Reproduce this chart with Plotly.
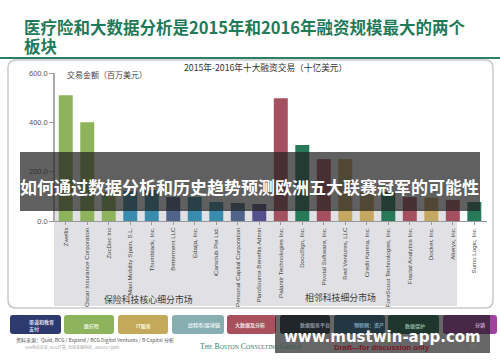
import plotly.graph_objects as go

W, H = 500, 362
companies = ["Zwellis", "Oscar Insurance Corporation", "ZocDoc Inc", "Maxi Mobility Spain, S.L.",
             "Thumbtack, Inc.", "Betterment LLC", "Edaija, Inc.", "iCarsclub Pte Ltd.",
             "Personal Capital Corporation", "PlanSource Benefits Admin", "Palantir Technologies Inc.",
             "DocuSign, Inc.", "Pivotal Software, Inc.", "Red Ventures, LLC", "Credit Karma, Inc.",
             "ForeScout Technologies, Inc.", "Fractal Analytics Inc.", "Docker, Inc.", "Alteryx, Inc.",
             "Sumo Logic, Inc."]
values = [510, 400, 118, 122, 125, 97, 97, 77, 73, 69, 498, 308, 251, 251, 118, 118, 97, 95, 85, 77]
G, B, N, P, R, T, O = "#8db35c", "#3a8cae", "#4f6488", "#54508e", "#a5505f", "#27795a", "#c4a862"
bar_colors = [G, G, G, B, B, N, B, B, N, P, R, T, R, O, O, T, R, O, R, T]
y_ticks = [0, 200, 400, 600]
y_labels = ["0.0", "200.0", "400.0", "600.0"]

FONT = "Liberation Sans, Noto Sans CJK SC, sans-serif"
CJK = "Noto Sans CJK SC, sans-serif"


def px(x):
    return x / W


def py(y):
    return 1 - y / H


def rect(x0, y0, x1, y1, fill, layer="below", line=None, lw=0):
    return dict(type="rect", xref="paper", yref="paper", x0=px(x0), x1=px(x1), y0=py(y1), y1=py(y0),
                fillcolor=fill, layer=layer, line=dict(color=line or fill, width=lw))


def rounded(x0, y0, x1, y1, r, fill, layer="below", line=None, lw=0):
    X = lambda v: f"{px(v):.5f}"
    Y = lambda v: f"{py(v):.5f}"
    path = (f"M {X(x0 + r)} {Y(y0)} L {X(x1 - r)} {Y(y0)} Q {X(x1)} {Y(y0)} {X(x1)} {Y(y0 + r)} "
            f"L {X(x1)} {Y(y1 - r)} Q {X(x1)} {Y(y1)} {X(x1 - r)} {Y(y1)} "
            f"L {X(x0 + r)} {Y(y1)} Q {X(x0)} {Y(y1)} {X(x0)} {Y(y1 - r)} "
            f"L {X(x0)} {Y(y0 + r)} Q {X(x0)} {Y(y0)} {X(x0 + r)} {Y(y0)} Z")
    return dict(type="path", xref="paper", yref="paper", path=path, fillcolor=fill, layer=layer,
                line=dict(color=line or fill, width=lw))


def text(x, y, s, size, color, anchor="left", bold=False, family=CJK, angle=0):
    return dict(xref="paper", yref="paper", x=px(x), y=py(y), text=f"<b>{s}</b>" if bold else s,
                showarrow=False, xanchor=anchor, yanchor="middle", align=anchor, textangle=angle,
                font=dict(size=size, color=color, family=family))


shapes = [
    rect(0, 57, 500, 59, "#2e7d65"),
    rounded(8, 60, 493, 308, 8, "#ffffff", line="#c9c9c9", lw=1.5),
    rect(54, 209, 457, 306, "#e1e1e5"),
]

chips = [(10, 61, "#2e3a6e"), (64, 114, "#8db35c"), (118, 168, "#c4a95a"), (172, 224, "#87aeb0"),
         (227, 276, "#a8505c"), (280, 330, "#2a3a4a"), (334, 385, "#2f6f90"), (388, 439, "#1f6b4f"),
         (443, 497, "#a040a0")]
for a, b, c in chips:
    shapes.append(rounded(a, 315, b, 334, 3, c))

shapes += [
    rect(20, 152, 480, 211, "rgba(35,35,35,0.72)", layer="above"),
    rect(275, 315, 490, 353, "rgba(30,30,30,0.68)", layer="above"),
]

small = '<span style="font-size:5.8px">'
dim = '<span style="color:#2c5c4c;font-size:5.8px">'
dimcap = '<span style="color:#2c5c4c;font-size:7.8px">'
boston = f'T{small}HE</span> B{small}OSTON</span> C{small}ONSULTI</span>{dim}NG </span>{dimcap}G</span>{dim}ROUP</span>'

annotations = [
    text(22, 27.5, "医疗险和大数据分析是2015年和2016年融资规模最大的两个", 16.5, "#1f7a5a", bold=True),
    text(22, 46.5, "板块", 16.5, "#1f7a5a", bold=True),
    text(265, 67, "2015年-2016年十大融资交易（十亿美元）", 8.7, "#333333", anchor="center"),
    text(65, 75, "交易金额（百万美元）", 8, "#444444"),
    text(148.5, 299.5, "保险科技核心细分市场", 8.9, "#3a3a3a", anchor="center"),
    text(340.5, 297, "相邻科技细分市场", 8.9, "#3a3a3a", anchor="center"),
    text(249.5, 187, "如何通过数据分析和历史趋势预测欧洲五大联赛冠军的可能性", 17, "#ffffff", anchor="center", bold=True),
    text(27, 325, "渠道和教育<br>支付", 5, "#d8dcec", bold=True),
    text(82, 326, "医疗险", 5, "#f0f5e4", bold=True),
    text(134, 326, "IT服务", 5, "#faf5df", bold=True),
    text(186, 325, "比特币/区块链", 5, "#eef6f6", bold=True),
    text(233, 325, "大数据及分析", 5, "#f4e0e2", bold=True),
    text(298, 325, "数据服务平台", 5, "#8a93a0", bold=True),
    text(352, 325, "物联网：资产", 5, "#7aa2b8", bold=True),
    text(403, 326, "数据保护", 5, "#8ab09e", bold=True),
    text(473, 325, "分销", 5, "#c9a0c9", bold=True),
    text(14, 340, "资料来源：Quid, BCG / Expand / BCG Digital Ventures / B Capital 分析", 5, "#555555"),
    text(23, 347, "509电话会议_BCG计算_全球金融科技_Jan2017.pptx", 4, "#a5a5a5"),
    text(198, 346, boston, 7.8, "#2e7d65", family="Liberation Serif, serif"),
    text(381.5, 347, "Draft—for discussion only", 7.6, "#7a1525", anchor="center", bold=True, family=FONT),
    text(473, 346, "39", 6, "#777777", anchor="center", family=FONT),
    text(382.5, 336.5, "www.mustwin-app.com", 15, "#ffffff", anchor="center", bold=True, family="DejaVu Sans, sans-serif"),
]

fig = go.Figure(go.Bar(x=companies, y=values, marker=dict(color=bar_colors, line=dict(width=0)), width=0.65))
fig.update_layout(
    width=W, height=H, autosize=False, margin=dict(l=0, r=0, t=0, b=0),
    paper_bgcolor="#ffffff", plot_bgcolor="rgba(0,0,0,0)", showlegend=False,
    shapes=shapes, annotations=annotations, font=dict(family=FONT),
    xaxis=dict(domain=[px(55), px(487)], range=[-0.5, 19.59], type="category", tickangle=-90,
               ticks="outside", ticklen=3, tickcolor="#999999", showline=True, linecolor="#999999",
               linewidth=1, showgrid=False, tickfont=dict(size=6.2, color="#444444", family=FONT),
               anchor="y", automargin=False),
    yaxis=dict(domain=[py(221), py(73)], range=[0, 600], tickvals=y_ticks, ticktext=y_labels,
               ticks="outside", ticklen=4, tickcolor="#999999", showline=True, linecolor="#aaaaaa",
               linewidth=1.5, showgrid=False, zeroline=False,
               tickfont=dict(size=7.5, color="#555555", family=FONT), automargin=False),
)
fig.write_html("out.html", config=dict(displayModeBar=False),
               post_script="document.body.style.margin='0';document.documentElement.style.overflow='hidden';")
